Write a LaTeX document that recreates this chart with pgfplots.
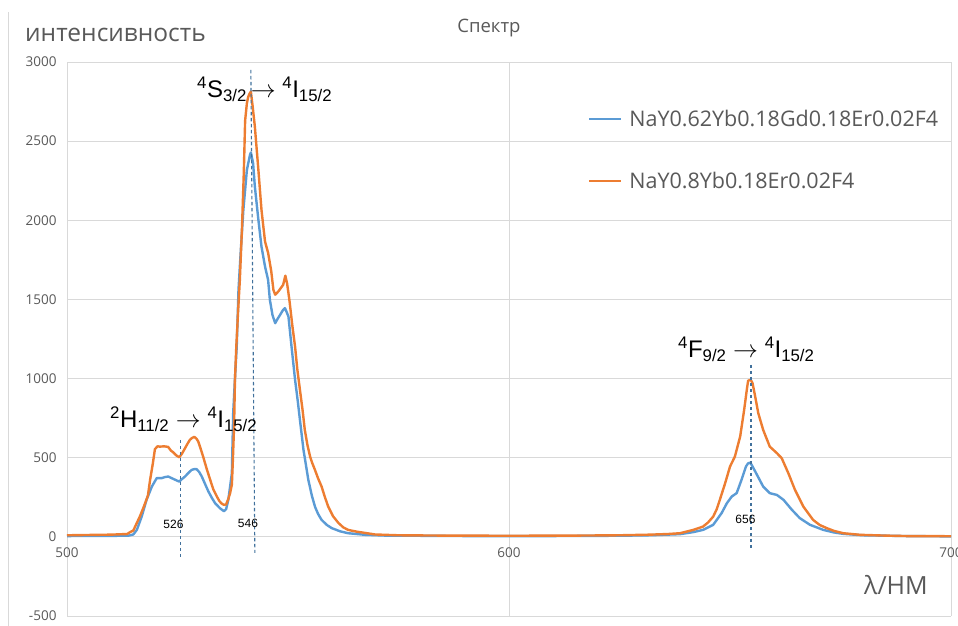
\documentclass[border=0pt]{standalone}
\usepackage{fontspec}
\setmainfont{Open Sans}
\newfontfamily\arialfont{Liberation Sans}
\usepackage{pgfplots}
\pgfplotsset{compat=1.18}
\definecolor{xblue}{RGB}{91,155,213}
\definecolor{xorange}{RGB}{237,125,49}
\definecolor{xgrid}{RGB}{217,217,217}
\definecolor{xtext}{RGB}{89,89,89}
\definecolor{xdash}{RGB}{65,113,156}
\begin{document}
\begin{tikzpicture}
\path[use as bounding box] (0pt,0pt) rectangle (958pt,626pt);
\draw[xgrid, line width=0.8pt] (8pt,0pt) -- (8pt,614pt);
\begin{axis}[at={(67pt,10pt)}, anchor=south west, scale only axis,
  width=884pt, height=554pt,
  xmin=500, xmax=700, ymin=-500, ymax=3000,
  xtick={500,600,700}, xticklabels={},
  ytick={-500,0,500,1000,1500,2000,2500,3000},
  grid=major, major grid style={xgrid, line width=0.9pt},
  axis line style={draw=none}, major tick length=0pt,
  yticklabel style={font=\fontsize{13.5}{15}\selectfont, text=xtext, xshift=-7pt},
  /pgf/number format/assume math mode=true,
  /pgf/number format/1000 sep={},
  clip=false,
  legend style={at={(0.589,0.917)}, anchor=north west, draw=none, fill=none,
    font=\fontsize{21.5}{26}\selectfont, text=xtext, row sep=40pt, inner sep=0pt},
  legend cell align=left,
  legend image code/.code={\draw[#1, line width=2.6pt] (0pt,0pt) -- (32pt,0pt); \path (37pt,0pt);},
]
\addplot[xblue, line width=2.4pt, line join=round] coordinates {
(500,5) (510,6) (514,8) (515.0,15) (515.8,44) (516.9,128) (518.0,234) (519.2,318)
(520.3,371) (521.4,371) (522.2,378) (522.9,381) (523.6,372) (524.2,364) (525.4,349)
(526.0,365) (526.7,381) (527.5,405) (528.2,423) (528.8,428) (529.3,428) (529.9,410)
(530.5,381) (531.3,330) (532.0,286) (532.8,245) (533.5,213) (534.6,181) (535.5,162)
(536.0,175) (536.5,234) (536.9,318) (537.3,402) (537.6,781) (538.0,1000) (538.4,1202)
(538.8,1560) (539.3,1800) (539.9,2066) (540.7,2318) (541.4,2413) (541.6,2428) (542.1,2361)
(542.5,2213) (543.3,2003) (544.0,1834) (544.8,1708) (545.5,1623) (545.9,1497) (546.5,1400)
(547.1,1350) (547.6,1375) (548.2,1402) (548.8,1430) (549.3,1445) (549.7,1420) (550.1,1392)
(550.8,1202) (551.6,992) (552.2,860) (552.7,739) (553.5,550) (554.6,360) (555.4,260)
(556.1,191) (556.8,145) (557.6,107) (558.8,75) (559.9,55) (561.8,35) (563.6,23)
(567.4,13) (572,8) (590,5) (610,5) (625,7) (632,10) (638.7,17) (641.7,30) (643.9,44)
(646.2,76) (648.1,150) (649.3,213) (650.4,255) (651.5,276) (652.6,360) (653.6,444)
(654.1,465) (654.5,468) (654.9,455) (656.1,392) (657.5,318) (659.0,276) (660.6,265)
(662.1,234) (664.0,171) (665.8,118) (668.1,76) (671.1,44) (673.5,28) (675.6,19)
(680,10) (690,5) (700,3)
};
\addlegendentry{NaY0.62Yb0.18Gd0.18Er0.02F4}
\addplot[xorange, line width=2.4pt, line join=round] coordinates {
(500,10) (505,12) (510,14) (513.6,18) (514.3,30) (515.0,40) (515.8,88) (516.5,130)
(517.3,185) (518.3,260) (518.8,360) (519.4,460) (519.9,555) (520.5,572) (521.0,570)
(522.0,572) (522.9,568) (523.5,545) (524.0,535) (524.7,515) (525.4,503) (526.0,525)
(526.7,560) (527.3,590) (527.8,613) (528.3,625) (528.8,632) (529.3,620) (529.7,602)
(530.2,560) (530.8,507) (531.6,430) (532.4,360) (533.1,300) (533.9,255) (534.5,225)
(535.0,210) (535.5,202) (536.0,205) (536.5,240) (536.9,276) (537.3,330) (537.5,465)
(537.8,700) (538.0,992) (538.3,1200) (538.7,1420) (539.1,1620) (539.6,1960) (540.0,2300)
(540.3,2630) (540.7,2740) (541.0,2780) (541.3,2800) (541.6,2813) (542.0,2720) (542.5,2592)
(543.3,2318) (544.0,2066) (544.8,1866) (545.5,1794) (546.2,1680) (546.7,1560) (547.1,1530)
(547.8,1550) (548.9,1592) (549.4,1650) (549.8,1600) (550.3,1500) (551.0,1330) (551.6,1202)
(552.1,1060) (552.7,929) (553.3,800) (553.8,676) (554.4,580) (555.0,507) (555.5,465)
(556.1,423) (556.8,370) (557.6,318) (558.3,255) (559.1,191) (560.2,130) (561.4,88)
(562.5,60) (563.6,44) (565.5,33) (567.4,25) (569.7,15) (575,10) (585,8) (600,7)
(615,8) (625,10) (632,14) (636,18) (638.7,23) (641.7,44) (643.9,65) (645.0,90)
(646.2,128) (647.0,175) (647.7,234) (648.9,339) (650.0,444) (651.1,507) (652.3,634)
(653.2,802) (653.8,929) (654.1,987) (654.7,992) (655.1,971) (655.7,886) (656.4,781)
(657.5,676) (659.0,570) (660.6,529) (661.7,497) (663.2,402) (664.7,297) (666.6,191)
(668.8,107) (670.3,75) (671.9,55) (673.5,38) (675.6,23) (679.4,13) (685,8) (690,5) (700,4)
};
\addlegendentry{NaY0.8Yb0.18Er0.02F4}
\draw[xdash, line width=1.1pt, dash pattern=on 3.5pt off 2.5pt] (axis cs:525.6,613) -- (axis cs:525.6,-133);
\draw[xdash, line width=1.1pt, dash pattern=on 3.5pt off 2.5pt] (axis cs:541.6,2950) -- (axis cs:542.5,-101);
\draw[xdash, line width=1.1pt, dash pattern=on 3.5pt off 2.5pt] (axis cs:654.75,1087) -- (axis cs:654.75,-82);
\node[anchor=north, inner sep=0pt, font=\fontsize{13.5}{15}\selectfont, text=xtext, yshift=-11pt] at (axis cs:500,0) {500};
\node[anchor=north, inner sep=0pt, font=\fontsize{13.5}{15}\selectfont, text=xtext, yshift=-11pt] at (axis cs:600,0) {600};
\node[anchor=north, inner sep=0pt, font=\fontsize{13.5}{15}\selectfont, text=xtext, yshift=-11pt] at (axis cs:700,0) {700};
\end{axis}
\node[text=xtext, font=\fontsize{18.5}{20}\selectfont, anchor=base, inner sep=0pt] at (489pt,593pt) {Спектр};
\node[text=xtext, font=\fontsize{24.5}{28}\selectfont, anchor=base west, inner sep=0pt] at (25pt,584pt) {интенсивность};
\node[text=xtext, font=\fontsize{25}{28}\selectfont, anchor=base west, inner sep=0pt] at (864pt,31pt) {λ/HM};
\node[font=\arialfont\fontsize{24}{26}\selectfont, anchor=base west, inner sep=0pt] at (197pt,528pt)
  {\textsuperscript{4}S\textsubscript{3/2}\,$\rightarrow$ \textsuperscript{4}I\textsubscript{15/2}};
\node[font=\arialfont\fontsize{24}{26}\selectfont, anchor=base west, inner sep=0pt] at (110pt,198pt)
  {\textsuperscript{2}H\textsubscript{11/2} $\rightarrow$ \textsuperscript{4}I\textsubscript{15/2}};
\node[font=\arialfont\fontsize{24}{26}\selectfont, anchor=base west, inner sep=0pt] at (678pt,268pt)
  {\textsuperscript{4}F\textsubscript{9/2} $\rightarrow$ \textsuperscript{4}I\textsubscript{15/2}};
\node[font=\arialfont\fontsize{12}{14}\selectfont] at (173.5pt,102pt) {526};
\node[font=\arialfont\fontsize{12}{14}\selectfont] at (248pt,103pt) {546};
\node[font=\arialfont\fontsize{12}{14}\selectfont] at (745.5pt,107pt) {656};
\end{tikzpicture}
\end{document}
